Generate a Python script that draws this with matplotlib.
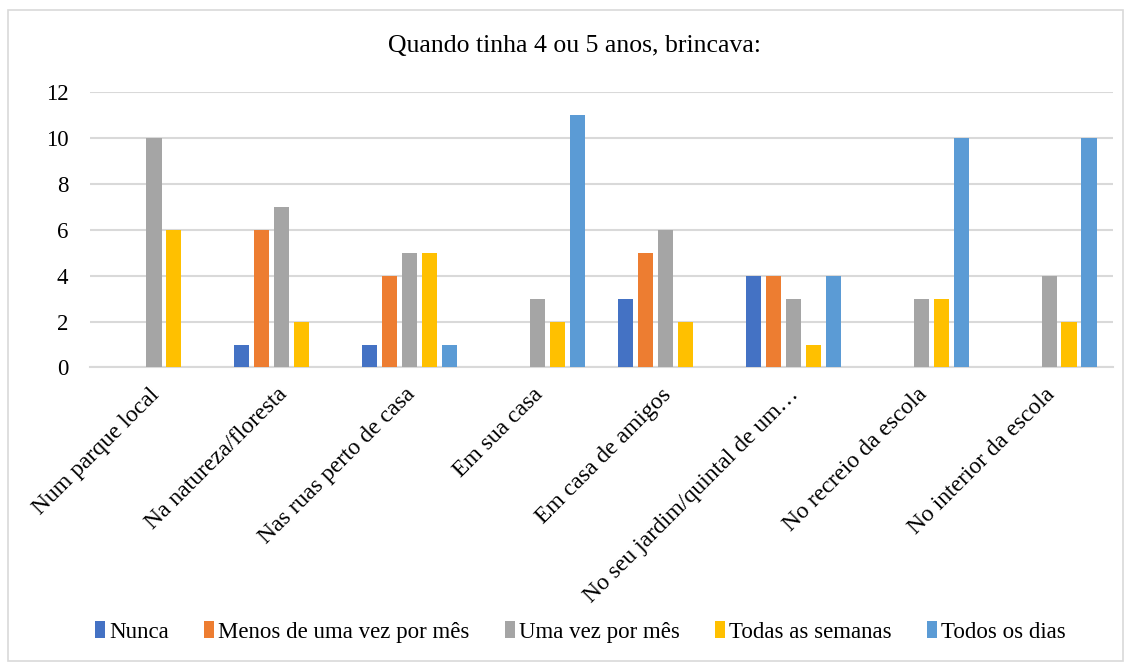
import matplotlib
matplotlib.use("Agg")
import matplotlib.pyplot as plt
import numpy as np
from matplotlib.patches import Rectangle
from matplotlib.transforms import ScaledTranslation

plt.rcParams['font.family'] = ['Liberation Serif', 'DejaVu Serif']

categories = ["Num parque local", "Na natureza/floresta", "Nas ruas perto de casa",
              "Em sua casa", "Em casa de amigos", "No seu jardim/quintal de um…",
              "No recreio da escola", "No interior da escola"]
series_names = ["Nunca", "Menos de uma vez por mês", "Uma vez por mês",
                "Todas as semanas", "Todos os dias"]
nunca = [0, 1, 1, 0, 3, 4, 0, 0]
menos_uma_vez = [0, 6, 4, 0, 5, 4, 0, 0]
uma_vez = [10, 7, 5, 3, 6, 3, 3, 4]
todas_semanas = [6, 2, 5, 2, 2, 1, 3, 2]
todos_dias = [0, 0, 1, 11, 0, 4, 10, 10]
yticks = [0, 2, 4, 6, 8, 10, 12]

colors = ["#4472C4", "#ED7D31", "#A5A5A5", "#FFC000", "#5B9BD5"]
values = [nunca, menos_uma_vez, uma_vez, todas_semanas, todos_dias]

fig = plt.figure(figsize=(11.31, 6.66), dpi=100)
ax = fig.add_axes([0.0796, 0.4482, 0.9045, 0.4141])

x = np.arange(len(categories))
step = 0.156
width = 0.118
for i, (name, vals, c) in enumerate(zip(series_names, values, colors)):
    ax.bar(x + (i - 2) * step, vals, width=width, color=c, label=name,
           linewidth=0, zorder=3)

ax.set_xlim(-0.5, len(categories) - 0.5)
ax.set_ylim(0, 12)
ax.set_yticks(yticks)
ax.set_yticklabels([str(t) for t in yticks], fontsize=16.5)
ax.yaxis.grid(True, color="#D9D9D9", linewidth=1.5, zorder=0)
ax.set_axisbelow(True)
for s in ["top", "right", "left"]:
    ax.spines[s].set_visible(False)
ax.spines["bottom"].set_color("#D9D9D9")
ax.spines["bottom"].set_linewidth(1.5)
ax.tick_params(axis="y", length=0, pad=15.5)
ax.tick_params(axis="x", length=0, pad=12)
ax.set_xticks(x)
ax.set_xticklabels(categories, rotation=45, ha="right", rotation_mode="anchor",
                   fontsize=17)
# nudge the rotated labels a little to the left, like the original
shift = ScaledTranslation(-5 / 100, 0, fig.dpi_scale_trans)
for lbl in ax.get_xticklabels():
    lbl.set_transform(lbl.get_transform() + shift)

fig.text(0.508, 0.931, "Quando tinha 4 ou 5 anos, brincava:", ha="center",
         va="center", fontsize=18.5)

fig.legend(loc="center", bbox_to_anchor=(0.513, 0.051), ncol=5, frameon=False,
           fontsize=16.5, handlelength=0.45, handleheight=0.75, handletextpad=0.15,
           columnspacing=1.55)

fig.patches.append(Rectangle((0.007, 0.008), 0.986, 0.977, transform=fig.transFigure,
                             fill=False, edgecolor="#D9D9D9", linewidth=1.2))

fig.savefig("out.png", dpi=100)
